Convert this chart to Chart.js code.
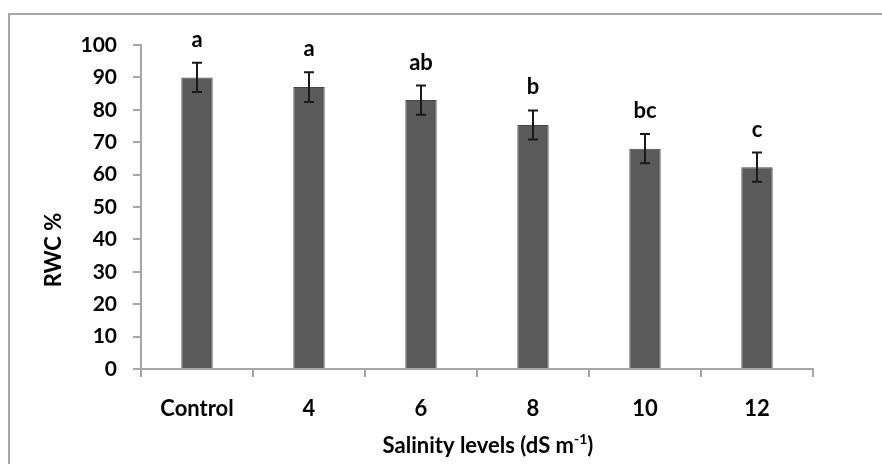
<!DOCTYPE html>
<html>
<head>
<meta charset="utf-8">
<script src="https://cdn.jsdelivr.net/npm/chart.js@4"></script>
<style>
  html, body { margin: 0; padding: 0; background: #fff; }
  #wrap { width: 882px; height: 464px; }
</style>
</head>
<body>
<div id="wrap"><canvas id="rwc-chart"></canvas></div>
<script>
const labels = ['Control', '4', '6', '8', '10', '12'];
const rwc = [90, 87, 83, 75.3, 68, 62.3];
const se = [4.5, 4.6, 4.5, 4.5, 4.5, 4.5];
const letters = ['a', 'a', 'ab', 'b', 'bc', 'c'];

const FONT = 'Lato, "Open Sans", sans-serif';

// frame, error bars, letters and axis titles
const extras = {
  id: 'extras',
  beforeDraw(chart) {
    const c = chart.ctx;
    c.save();
    c.strokeStyle = '#a6a6a6';
    c.lineWidth = 2;
    c.strokeRect(9, 14, 1000, 1000);
    c.restore();
  },
  afterDatasetsDraw(chart) {
    const c = chart.ctx;
    const x = chart.scales.x, y = chart.scales.y;
    c.save();
    c.strokeStyle = '#1a1a1a';
    c.lineWidth = 2;
    c.fillStyle = '#000';
    c.font = 'bold 22px ' + FONT;
    c.textAlign = 'center';
    c.textBaseline = 'alphabetic';
    rwc.forEach((v, i) => {
      const px = x.getPixelForValue(i);
      const top = y.getPixelForValue(v + se[i]);
      const bot = y.getPixelForValue(v - se[i]);
      c.beginPath();
      c.moveTo(px, top); c.lineTo(px, bot);
      c.moveTo(px - 5, top); c.lineTo(px + 5, top);
      c.moveTo(px - 5, bot); c.lineTo(px + 5, bot);
      c.stroke();
      c.fillText(letters[i], px, top - 16);
    });

    // y title
    c.save();
    c.translate(54, 250);
    c.rotate(-Math.PI / 2);
    c.textBaseline = 'middle';
    c.fillText('RWC %', 0, 0);
    c.restore();

    // x title with superscript
    const a = 'Salinity levels (dS m', sup = '-1', b = ')';
    c.font = 'bold 22px ' + FONT;
    const wa = c.measureText(a).width, wb = c.measureText(b).width;
    c.font = 'bold 14px ' + FONT;
    const ws = c.measureText(sup).width;
    let sx = 488 - (wa + ws + wb) / 2;
    const by = 453;
    c.textAlign = 'left';
    c.font = 'bold 22px ' + FONT;
    c.fillText(a, sx, by);
    c.font = 'bold 14px ' + FONT;
    c.fillText(sup, sx + wa, by - 9);
    c.font = 'bold 22px ' + FONT;
    c.fillText(b, sx + wa + ws, by);
    c.restore();
  }
};

new Chart(document.getElementById('rwc-chart'), {
  type: 'bar',
  data: {
    labels: labels,
    datasets: [{
      label: 'RWC %',
      data: rwc,
      backgroundColor: '#5a5a5a',
      borderColor: '#454545',
      borderWidth: 1,
      barPercentage: 0.28,
      categoryPercentage: 1
    }]
  },
  options: {
    responsive: true,
    maintainAspectRatio: false,
    animation: false,
    layout: { padding: { top: 45, right: 69, left: 0, bottom: 0 } },
    plugins: {
      legend: { display: false },
      tooltip: { enabled: false }
    },
    scales: {
      x: {
        afterFit: s => { s.height = 95; },
        border: { color: '#a6a6a6', width: 2 },
        grid: { drawOnChartArea: false, offset: true, tickLength: 8, color: '#a6a6a6', lineWidth: 2 },
        ticks: { color: '#000', padding: 19, font: { family: FONT, size: 22, weight: 'bold' } }
      },
      y: {
        min: 0,
        max: 100,
        afterFit: s => { s.width = 141; },
        border: { color: '#a6a6a6', width: 2 },
        grid: { drawOnChartArea: false, tickLength: 8, color: '#a6a6a6', lineWidth: 2 },
        ticks: { stepSize: 10, color: '#000', padding: 16, font: { family: FONT, size: 21, weight: 'bold' } }
      }
    }
  },
  plugins: [extras]
});
</script>
</body>
</html>
